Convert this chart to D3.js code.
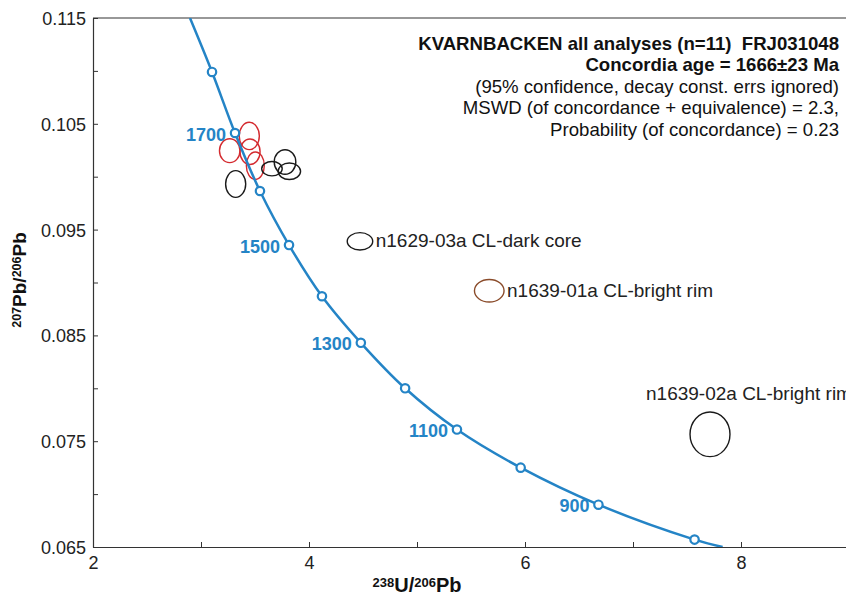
<!DOCTYPE html>
<html>
<head>
<meta charset="utf-8">
<script src="https://cdn.jsdelivr.net/npm/d3@7"></script>
<style>
  body { margin: 0; background: #fff; }
  svg { font-family: "Liberation Sans", Arial, Helvetica, sans-serif; }
</style>
</head>
<body>
<div id="chart"></div>
<script>
// Concordia curve points (age in Ma, 238U/206Pb, 207Pb/206Pb)
var concordiaAges = [null, 1800, 1700, 1600, 1500, 1400, 1300, 1200, 1100, 1000, 900, 800, null];
var concordiaX = [2.898, 3.102, 3.315, 3.546, 3.815, 4.12, 4.48, 4.89, 5.37, 5.96, 6.68, 7.57, 7.83];
var concordiaY = [0.115, 0.1099, 0.10413, 0.09865, 0.09354, 0.0887, 0.0843, 0.0800, 0.0761, 0.0725, 0.0690, 0.0657, 0.065];
var labelledAges = [1700, 1500, 1300, 1100, 900];

// Error ellipses (centre, half-widths)
var ellX = [3.447, 3.266, 3.454, 3.503, 3.321, 3.657, 3.778, 3.818, 4.472, 5.669, 7.713];
var ellY = [0.10385, 0.10246, 0.10236, 0.10104, 0.09931, 0.10076, 0.10139, 0.10051, 0.09389, 0.08922, 0.07565];
var ellSx = [0.093, 0.095, 0.093, 0.083, 0.093, 0.095, 0.100, 0.104, 0.118, 0.137, 0.185];
var ellSy = [0.00129, 0.00113, 0.00120, 0.00130, 0.00126, 0.00068, 0.00116, 0.00078, 0.00082, 0.00107, 0.00211];
var ellGroup = ['red', 'red', 'red', 'red', 'black', 'black', 'black', 'black', 'black', 'brown', 'black'];
var ellLabel = ['', '', '', '', '', '', '', '', 'n1629-03a CL-dark core', 'n1639-01a CL-bright rim', 'n1639-02a CL-bright rim'];

var xTicks = [2, 3, 4, 5, 6, 7, 8, 9];
var xTickLabels = ['2', '', '4', '', '6', '', '8', ''];
var yTicks = [0.065, 0.070, 0.075, 0.080, 0.085, 0.090, 0.095, 0.100, 0.105, 0.110, 0.115];
var yTickLabels = ['0.065', '', '0.075', '', '0.085', '', '0.095', '', '0.105', '', '0.115'];

var titleLines = [
    'KVARNBACKEN all analyses (n=11)  FRJ031048',
    'Concordia age = 1666\u00b123 Ma',
    '(95% confidence, decay const. errs ignored)',
    'MSWD (of concordance + equivalence) = 2.3,',
    'Probability (of concordance) = 0.23'
];
var titleBold = [true, true, false, false, false];

var colors = {red: '#d42a2f', black: '#1a1a1a', brown: '#8a4b2a'};
var blue = '#2484c6';

var margin = {top: 18, bottom: 50, left: 93, right: -3};
var totalW = 846, totalH = 597;
var width = totalW - margin.left - margin.right;
var height = totalH - margin.top - margin.bottom;

var svg = d3.select('#chart').append('svg')
    .attr('width', totalW)
    .attr('height', totalH);

var g = svg.append('g')
    .attr('transform', `translate(${margin.left},${margin.top})`);

var xScale = d3.scaleLinear().domain([2, 9]).range([0, width]);
var yScale = d3.scaleLinear().domain([0.065, 0.115]).range([height, 0]);

g.append('clipPath').attr('id', 'plot-clip')
    .append('rect').attr('width', width).attr('height', height);

// Axes, ticks pointing inward
var xAxis = d3.axisBottom(xScale).tickValues(xTicks)
    .tickFormat((d, i) => xTickLabels[i]).tickSizeInner(-5).tickSizeOuter(0).tickPadding(9);
var yAxis = d3.axisLeft(yScale).tickValues(yTicks)
    .tickFormat((d, i) => yTickLabels[i]).tickSizeInner(-5).tickSizeOuter(0).tickPadding(7);

var gx = g.append('g').attr('transform', `translate(0,${height})`).call(xAxis);
var gy = g.append('g').call(yAxis);
[gx, gy].forEach(function(a) {
    a.select('.domain').attr('stroke', '#333').attr('stroke-width', 1.2);
    a.selectAll('.tick line').attr('stroke', '#333');
    a.selectAll('.tick text').attr('fill', '#222').style('font-size', '18px');
});
gy.selectAll('.tick text').attr('dy', '0.36em');

// top frame line
g.append('line').attr('x1', 0).attr('x2', width).attr('y1', 0).attr('y2', 0)
    .attr('stroke', '#333').attr('stroke-width', 1.2);

var plot = g.append('g').attr('clip-path', 'url(#plot-clip)');

// Ellipses
var ellData = ellX.map((x, i) => ({x: x, y: ellY[i], sx: ellSx[i], sy: ellSy[i], group: ellGroup[i], label: ellLabel[i]}));

plot.selectAll('ellipse.err').data(ellData).enter().append('ellipse')
    .attr('class', 'err')
    .attr('cx', d => xScale(d.x))
    .attr('cy', d => yScale(d.y))
    .attr('rx', d => xScale(d.x + d.sx) - xScale(d.x))
    .attr('ry', d => yScale(d.y) - yScale(d.y + d.sy))
    .attr('fill', 'none')
    .attr('stroke', d => colors[d.group])
    .attr('stroke-width', 1.4);

// Concordia curve
var curveData = concordiaX.map((x, i) => ({age: concordiaAges[i], x: x, y: concordiaY[i]}));
var lineGen = d3.line()
    .curve(d3.curveCatmullRom)
    .x(d => xScale(d.x))
    .y(d => yScale(d.y));

plot.append('path').datum(curveData)
    .attr('d', lineGen)
    .attr('fill', 'none')
    .attr('stroke', blue)
    .attr('stroke-width', 2.5);

var agePts = curveData.filter(d => d.age !== null);
plot.selectAll('circle.age').data(agePts).enter().append('circle')
    .attr('class', 'age')
    .attr('cx', d => xScale(d.x))
    .attr('cy', d => yScale(d.y))
    .attr('r', 4.2)
    .attr('fill', '#fff')
    .attr('stroke', blue)
    .attr('stroke-width', 2.2);

g.selectAll('text.age').data(agePts.filter(d => labelledAges.indexOf(d.age) >= 0)).enter().append('text')
    .attr('class', 'age')
    .attr('x', d => xScale(d.x) - 9)
    .attr('y', d => yScale(d.y) + 7.5)
    .attr('text-anchor', 'end')
    .attr('fill', blue)
    .style('font-size', '18px')
    .style('font-weight', 'bold')
    .text(d => d.age);

// Ellipse annotations
g.selectAll('text.note').data(ellData.filter(d => d.label)).enter().append('text')
    .attr('class', 'note')
    .attr('x', function(d) {
        var x = xScale(d.x), rx = xScale(d.x + d.sx) - x;
        return d.label.indexOf('02a') >= 0 ? x - 64 : x + rx + 3;
    })
    .attr('y', function(d) {
        var y = yScale(d.y), ry = yScale(d.y) - yScale(d.y + d.sy);
        return d.label.indexOf('02a') >= 0 ? y - ry - 12 : y + 6;
    })
    .attr('fill', '#222')
    .style('font-size', '19px')
    .text(d => d.label);

// Title block
var title = g.append('text')
    .attr('text-anchor', 'end')
    .attr('fill', '#111')
    .style('font-size', '18.6px')
    .style('white-space', 'pre');
titleLines.forEach(function(t, i) {
    title.append('tspan')
        .attr('x', 746)
        .attr('y', 31.5 + i * 21.5)
        .style('font-weight', titleBold[i] ? 'bold' : 'normal')
        .text(t);
});

// Axis titles
var xt = svg.append('text')
    .attr('x', 417).attr('y', 592)
    .attr('text-anchor', 'middle')
    .attr('fill', '#111')
    .style('font-size', '20px')
    .style('font-weight', 'bold');
xt.append('tspan').attr('baseline-shift', '38%').style('font-size', '13px').text('238');
xt.append('tspan').text('U/');
xt.append('tspan').attr('baseline-shift', '38%').style('font-size', '13px').text('206');
xt.append('tspan').text('Pb');

var yt = svg.append('text')
    .attr('transform', 'translate(26,280) rotate(-90)')
    .attr('text-anchor', 'middle')
    .attr('fill', '#111')
    .style('font-size', '19px')
    .style('font-weight', 'bold');
yt.append('tspan').attr('baseline-shift', '38%').style('font-size', '12.5px').text('207');
yt.append('tspan').text('Pb/');
yt.append('tspan').attr('baseline-shift', '38%').style('font-size', '12.5px').text('206');
yt.append('tspan').text('Pb');
</script>
</body>
</html>
